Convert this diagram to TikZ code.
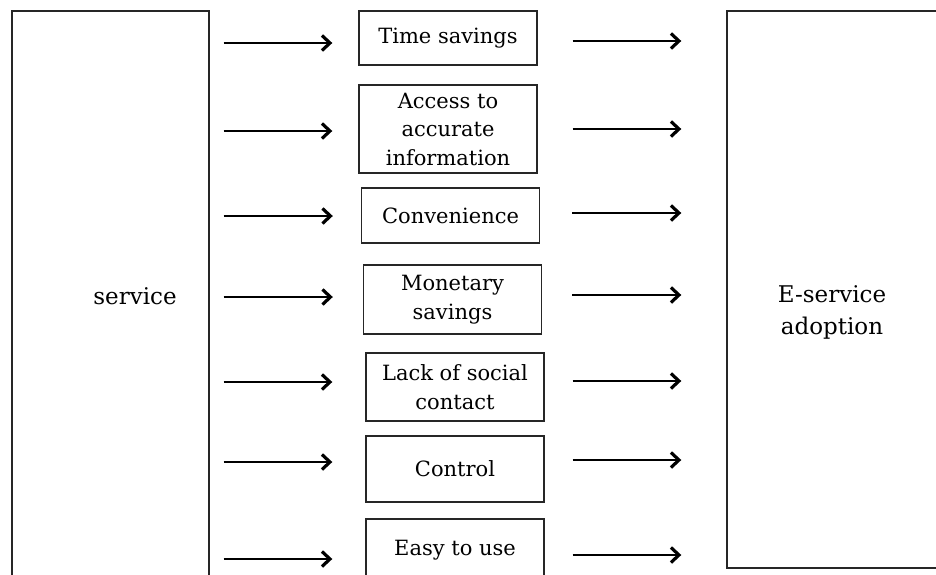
\documentclass[tikz,border=0pt]{standalone}
\usepackage{fontspec}
\setmainfont{DejaVu Serif}
\usetikzlibrary{positioning, arrows.meta, calc}

\begin{document}
\begin{tikzpicture}[
    x=1pt, y=-1pt,
    font=\fontsize{21}{28.5}\selectfont,
    bigbox/.style={rectangle, draw=black!85, line width=1.4pt, inner sep=0pt},
    factor/.style={rectangle, draw=black!85, line width=1.4pt, minimum width=178pt,
                   align=center, inner sep=2pt},
    sidelabel/.style={font=\fontsize{23}{32}\selectfont, align=center},
    arrow/.style={-{Straight Barb[length=8pt, width=15pt, line width=3.2pt]}, line width=1.7pt}
]
\useasboundingbox (0,0) rectangle (936,574);
\clip (0,0) rectangle (936,574);

% --- Cajas laterales ---
\node[bigbox, minimum width=197pt, minimum height=589pt] (src) at (110.5,305.5) {};
\node[bigbox, minimum width=213pt, minimum height=557pt] (adopt) at (833.5,289.5) {};
\node[sidelabel] (srvtxt) at (135,296) {service};
\node[sidelabel] (adopttxt) at (832,312) {E-service\\adoption};

% --- Factores ---
\node[factor, minimum height=54pt] (ts) at (448,38) {Time savings};
\node[factor, minimum height=88pt] (acc) at (448,129) {Access to\\accurate\\information};
\node[factor, minimum height=55pt] (conv) at (450.5,215.5) {Convenience};
\node[factor, minimum height=69pt] (mon) at (452.5,299.5) {Monetary\\savings};
\node[factor, minimum height=68pt] (lack) at (455,387) {Lack of social\\contact};
\node[factor, minimum height=66pt] (ctrl) at (455,469) {Control};
\node[factor, minimum height=62pt] (easy) at (455,550) {Easy to use};

% --- Flechas de entrada ---
\draw[arrow] ($(src.east |- ts)+(14,5)$) -- ($(ts.west)+(-26,5)$);
\draw[arrow] ($(src.east |- acc)+(14,2)$) -- ($(acc.west)+(-26,2)$);
\draw[arrow] ($(src.east |- conv)+(14,0.5)$) -- ($(conv.west)+(-28,0.5)$);
\draw[arrow] ($(src.east |- mon)+(14,-2.5)$) -- ($(mon.west)+(-30,-2.5)$);
\draw[arrow] ($(src.east |- lack)+(14,-5)$) -- ($(lack.west)+(-33,-5)$);
\draw[arrow] ($(src.east |- ctrl)+(14,-7)$) -- ($(ctrl.west)+(-33,-7)$);
\draw[arrow] ($(src.east |- easy)+(14,9)$) -- ($(easy.west)+(-33,9)$);

% --- Flechas de salida ---
\draw[arrow] ($(ts.east)+(35,3)$) -- ($(adopt.west |- ts)+(-45,3)$);
\draw[arrow] ($(acc.east)+(35,0)$) -- ($(adopt.west |- acc)+(-45,0)$);
\draw[arrow] ($(conv.east)+(32,-2.5)$) -- ($(adopt.west |- conv)+(-45,-2.5)$);
\draw[arrow] ($(mon.east)+(30,-4.5)$) -- ($(adopt.west |- mon)+(-45,-4.5)$);
\draw[arrow] ($(lack.east)+(28,-6)$) -- ($(adopt.west |- lack)+(-45,-6)$);
\draw[arrow] ($(ctrl.east)+(28,-9)$) -- ($(adopt.west |- ctrl)+(-45,-9)$);
\draw[arrow] ($(easy.east)+(28,5)$) -- ($(adopt.west |- easy)+(-45,5)$);

\end{tikzpicture}
\end{document}
